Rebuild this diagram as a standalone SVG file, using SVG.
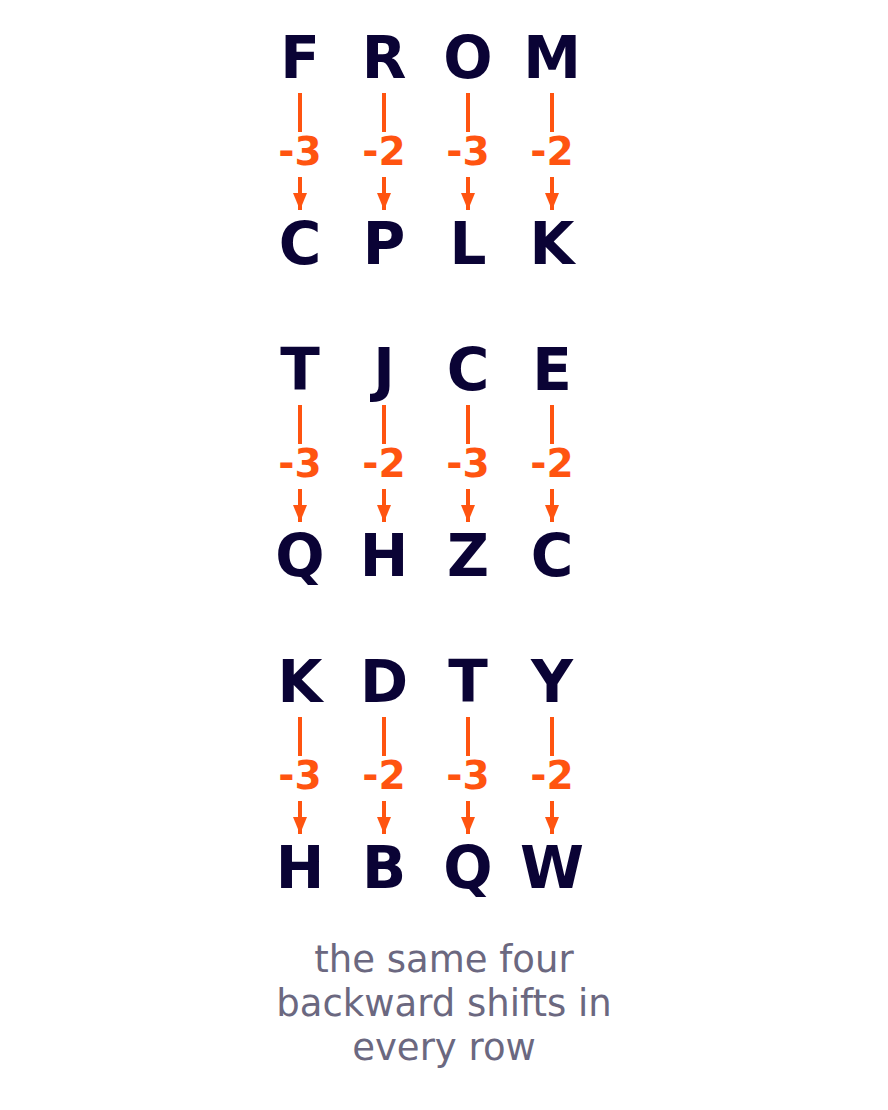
<svg xmlns="http://www.w3.org/2000/svg" width="888" height="1110" viewBox="0 0 888 1110">
<style>
.l{font-family:"DejaVu Sans",sans-serif;font-weight:bold;font-size:58px;fill:#0a0335;text-anchor:middle}
.s{font-family:"DejaVu Sans",sans-serif;font-weight:bold;font-size:39px;fill:#ff5410;text-anchor:middle}
.c{font-family:"DejaVu Sans",sans-serif;font-size:37px;fill:#6b6880;text-anchor:middle}
.ln{stroke:#ff5410;stroke-width:4;fill:none}
</style>
<defs>
<marker id="ah" viewBox="0 0 14 17" refX="14" refY="7" markerWidth="14" markerHeight="17" markerUnits="userSpaceOnUse" orient="auto">
<path d="M0,0 L14,7 L0,14 z" fill="#ff5410"/>
</marker>
<marker id="a" viewBox="0 0 17 14" refX="17" refY="7" markerWidth="17" markerHeight="14" markerUnits="userSpaceOnUse" orient="auto">
<path d="M0,0 L17,7 L0,14 z" fill="#ff5410"/>
</marker>
</defs>
<rect width="888" height="1110" fill="#ffffff"/>
<g id="connectors">
<g id="r1c">
<line class="ln" x1="300" y1="93" x2="300" y2="132"/><line class="ln" x1="300" y1="177" x2="300" y2="210" marker-end="url(#a)"/>
<line class="ln" x1="384" y1="93" x2="384" y2="132"/><line class="ln" x1="384" y1="177" x2="384" y2="210" marker-end="url(#a)"/>
<line class="ln" x1="468" y1="93" x2="468" y2="132"/><line class="ln" x1="468" y1="177" x2="468" y2="210" marker-end="url(#a)"/>
<line class="ln" x1="552" y1="93" x2="552" y2="132"/><line class="ln" x1="552" y1="177" x2="552" y2="210" marker-end="url(#a)"/>
</g>
<g id="r2c" transform="translate(0,312)">
<line class="ln" x1="300" y1="93" x2="300" y2="132"/><line class="ln" x1="300" y1="177" x2="300" y2="210" marker-end="url(#a)"/>
<line class="ln" x1="384" y1="93" x2="384" y2="132"/><line class="ln" x1="384" y1="177" x2="384" y2="210" marker-end="url(#a)"/>
<line class="ln" x1="468" y1="93" x2="468" y2="132"/><line class="ln" x1="468" y1="177" x2="468" y2="210" marker-end="url(#a)"/>
<line class="ln" x1="552" y1="93" x2="552" y2="132"/><line class="ln" x1="552" y1="177" x2="552" y2="210" marker-end="url(#a)"/>
</g>
<g id="r3c" transform="translate(0,624)">
<line class="ln" x1="300" y1="93" x2="300" y2="132"/><line class="ln" x1="300" y1="177" x2="300" y2="210" marker-end="url(#a)"/>
<line class="ln" x1="384" y1="93" x2="384" y2="132"/><line class="ln" x1="384" y1="177" x2="384" y2="210" marker-end="url(#a)"/>
<line class="ln" x1="468" y1="93" x2="468" y2="132"/><line class="ln" x1="468" y1="177" x2="468" y2="210" marker-end="url(#a)"/>
<line class="ln" x1="552" y1="93" x2="552" y2="132"/><line class="ln" x1="552" y1="177" x2="552" y2="210" marker-end="url(#a)"/>
</g>
<g id="labels">
<text class="s" x="300" y="165">-3</text><text class="s" x="384" y="165">-2</text><text class="s" x="468" y="165">-3</text><text class="s" x="552" y="165">-2</text>
<text class="s" x="300" y="477">-3</text><text class="s" x="384" y="477">-2</text><text class="s" x="468" y="477">-3</text><text class="s" x="552" y="477">-2</text>
<text class="s" x="300" y="789">-3</text><text class="s" x="384" y="789">-2</text><text class="s" x="468" y="789">-3</text><text class="s" x="552" y="789">-2</text>
</g>
</g>
<g id="row1-top"><text class="l" x="300" y="78">F</text><text class="l" x="384" y="78">R</text><text class="l" x="468" y="78">O</text><text class="l" x="552" y="78">M</text></g>
<g id="row1-bottom"><text class="l" x="300" y="264">C</text><text class="l" x="384" y="264">P</text><text class="l" x="468" y="264">L</text><text class="l" x="552" y="264">K</text></g>
<g id="row2-top"><text class="l" x="300" y="390">T</text><text class="l" x="384" y="390">J</text><text class="l" x="468" y="390">C</text><text class="l" x="552" y="390">E</text></g>
<g id="row2-bottom"><text class="l" x="300" y="576">Q</text><text class="l" x="384" y="576">H</text><text class="l" x="468" y="576">Z</text><text class="l" x="552" y="576">C</text></g>
<g id="row3-top"><text class="l" x="300" y="702">K</text><text class="l" x="384" y="702">D</text><text class="l" x="468" y="702">T</text><text class="l" x="552" y="702">Y</text></g>
<g id="row3-bottom"><text class="l" x="300" y="888">H</text><text class="l" x="384" y="888">B</text><text class="l" x="468" y="888">Q</text><text class="l" x="552" y="888">W</text></g>
<g id="caption">
<text class="c" x="444" y="972">the same four</text>
<text class="c" x="444" y="1016">backward shifts in</text>
<text class="c" x="444" y="1060">every row</text>
</g>
</svg>
